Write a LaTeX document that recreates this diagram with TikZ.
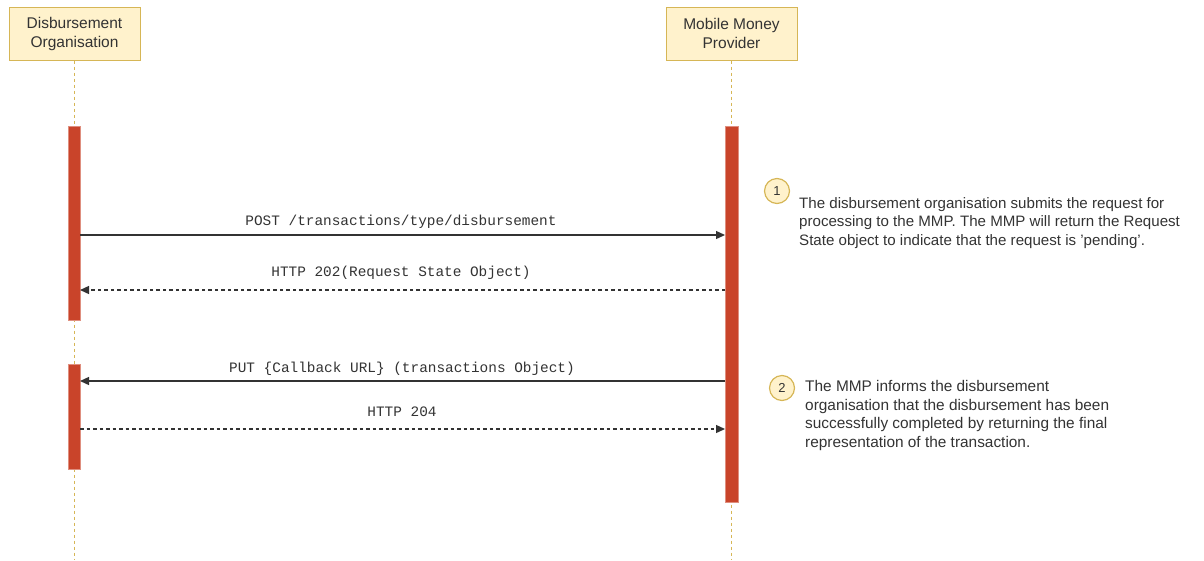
\documentclass[tikz,border=0pt]{standalone}
\usepackage{fontspec}
\setmainfont{Liberation Sans}
\setmonofont{Liberation Mono}
\usetikzlibrary{arrows.meta}
\definecolor{boxfill}{HTML}{FFF2CC}
\definecolor{boxline}{HTML}{D6B656}
\definecolor{barfill}{HTML}{C9442A}
\definecolor{txt}{HTML}{333333}
\begin{document}
\begin{tikzpicture}[x=1pt,y=-1pt,
  actor/.style={draw=boxline,fill=boxfill,line width=1pt,minimum width=131pt,minimum height=53pt,
    align=center,font=\fontsize{15.5}{19}\selectfont,text=txt,inner sep=0pt},
  lifeline/.style={draw=boxline,line width=1.2pt,dash pattern=on 3pt off 3pt},
  actbar/.style={fill=barfill,draw=barfill!60,line width=0.5pt},
  msg/.style={draw=black!80,line width=1.3pt,-{Triangle[length=9pt,width=8pt]}},
  reply/.style={msg,dash pattern=on 3.5pt off 3pt},
  msglabel/.style={font=\ttfamily\fontsize{14.4}{16}\selectfont,text=txt,inner sep=0pt},
  badge/.style={circle,draw=boxline,fill=boxfill,line width=1.2pt,minimum size=25pt,inner sep=0pt,
    font=\fontsize{13}{15}\selectfont,text=txt},
  note/.style={align=left,anchor=north west,font=\fontsize{15.4}{18.8}\selectfont,text=txt,inner sep=0pt}]
\useasboundingbox (0,0) rectangle (1204,560);
% participants
\node[actor] (org) at (74.5,33.5) {Disbursement\\Organisation};
\node[actor] (mmp) at (731.5,33.5) {Mobile Money\\Provider};
\coordinate (orgend) at (74.5,560);
\coordinate (mmpend) at (731.5,560);
\draw[lifeline] (org.south) -- (orgend);
\draw[lifeline] (mmp.south) -- (mmpend);
% activation bars
\draw[actbar] (68,126) rectangle (80,320);
\draw[actbar] (68,364) rectangle (80,469);
\draw[actbar] (725,126) rectangle (738,502);
\coordinate (a1) at (80,235);   \coordinate (b1) at (725,235);
\coordinate (a2) at (80,290);   \coordinate (b2) at (725,290);
\coordinate (a3) at (80,381);   \coordinate (b3) at (725,381);
\coordinate (a4) at (80,429);   \coordinate (b4) at (725,429);
% messages
\draw[msg] (a1) -- (b1);
\node[msglabel] (l1) at (401,222) {POST /transactions/type/disbursement};
\draw[reply] (b2) -- (a2);
\node[msglabel] (l2) at (401,273) {HTTP 202(Request State Object)};
\draw[msg] (b3) -- (a3);
\node[msglabel] (l3) at (402,369) {PUT \{Callback URL\} (transactions Object)};
\draw[reply] (a4) -- (b4);
\node[msglabel] (l4) at (402,412) {HTTP 204};
% notes
\node[badge] (n1) at (777,191) {1};
\node[note, font=\fontsize{15.1}{18.6}\selectfont] (t1) at (799,197) {The disbursement organisation submits the request for\\processing to the MMP. The MMP will return the Request\\State object to indicate that the request is 'pending'.};
\node[badge] (n2) at (782,388) {2};
\node[note] (t2) at (805,380) {The MMP informs the disbursement\\organisation that the disbursement has been\\successfully completed by returning the final\\representation of the transaction.};
\end{tikzpicture}
\end{document}
